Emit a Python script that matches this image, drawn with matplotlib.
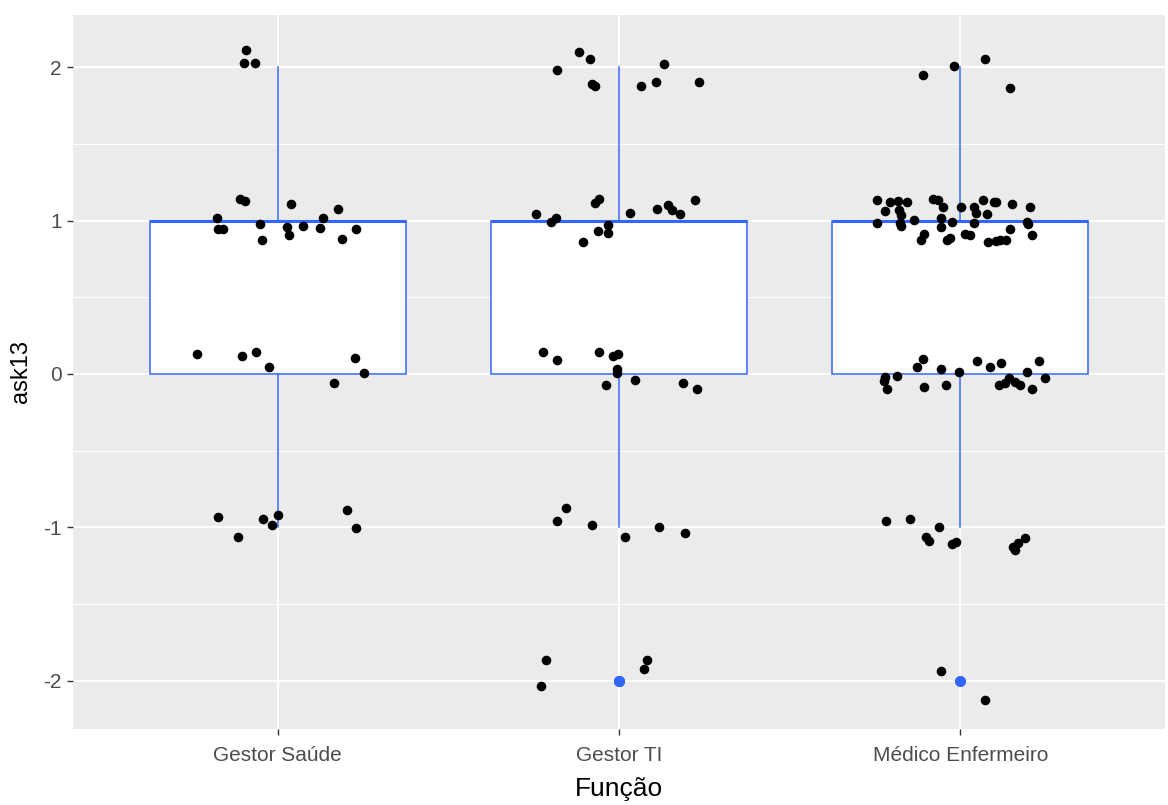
import numpy as np
import matplotlib
matplotlib.use("Agg")
import matplotlib.pyplot as plt

plt.rcParams['font.family'] = ['Liberation Sans', 'DejaVu Sans']

categories = ["Gestor Saúde", "Gestor TI", "Médico Enfermeiro"]

# jittered points per group: horizontal jitter (category units) and displayed value
saude_jitter = [-0.094, -0.099, -0.067,
                -0.111, -0.096, 0.039, 0.177, -0.179, 0.134,
                -0.174, -0.160, -0.052, -0.046, 0.028, 0.034, 0.075, 0.124, 0.187, 0.230,
                -0.237, -0.105, -0.063, -0.025, 0.225, 0.252, 0.166,
                -0.174, -0.042, -0.016, 0.001, -0.116, 0.203, 0.230]
saude_values = [2.11, 2.03, 2.03,
                1.14, 1.13, 1.11, 1.075, 1.018, 1.018,
                0.943, 0.943, 0.979, 0.871, 0.96, 0.908, 0.966, 0.953, 0.882, 0.943,
                0.13, 0.119, 0.141, 0.046, 0.106, 0.008, -0.061,
                -0.934, -0.945, -0.982, -0.921, -1.066, -0.886, -1.005]

ti_jitter = [-0.117, -0.085, -0.181, -0.080, -0.069, 0.063, 0.107, 0.133, 0.235,
             -0.069, -0.058, -0.244, -0.198, -0.186, 0.032, 0.112, 0.143, 0.154, 0.180, 0.224,
             -0.031, -0.063, -0.031, -0.106,
             -0.223, -0.181, -0.058, -0.017, -0.004, -0.005, -0.005, -0.038, 0.048, 0.186, 0.229,
             -0.155, -0.181, -0.080, 0.016, 0.117, 0.192,
             -0.213, -0.229, 0.081, 0.074]
ti_values = [2.10, 2.054, 1.98, 1.889, 1.874, 1.874, 1.90, 2.02, 1.90,
             1.112, 1.138, 1.04, 0.988, 1.018, 1.051, 1.075, 1.103, 1.066, 1.04, 1.136,
             0.971, 0.932, 0.918, 0.86,
             0.141, 0.093, 0.141, 0.119, 0.130, 0.033, 0.005, -0.072, -0.037, -0.061, -0.098,
             -0.873, -0.958, -0.982, -1.066, -0.995, -1.04,
             -1.865, -2.033, -1.863, -1.926]

medico_jitter = [-0.110, -0.019, 0.071, 0.145,
                 -0.243, -0.206, -0.184, -0.157, -0.079, -0.064, -0.052, 0.002, 0.039, 0.066,
                 0.098, 0.105, 0.152, 0.204,
                 -0.222, -0.179, -0.174, 0.045, 0.077,
                 -0.243, -0.177, -0.174, -0.136, -0.058, -0.058, -0.024, 0.039, 0.196, 0.198,
                 0.145, 0.210,
                 -0.106, -0.116, -0.038, -0.030, 0.014, 0.028, 0.082, 0.105, 0.116, 0.134,
                 -0.110, -0.126, -0.222, -0.224, -0.216, -0.185, -0.105, -0.056, -0.041, -0.003,
                 0.050, 0.087, 0.118, 0.231, 0.194, 0.247, 0.210, 0.113, 0.132, 0.142, 0.159, 0.176,
                 -0.217, -0.147, -0.061, -0.100, -0.093, -0.025, -0.014, 0.155, 0.168, 0.190, 0.160,
                 -0.056, 0.072]
medico_values = [1.948, 2.007, 2.054, 1.863,
                 1.136, 1.123, 1.127, 1.121, 1.138, 1.136, 1.086, 1.088, 1.09, 1.136,
                 1.123, 1.121, 1.11, 1.088,
                 1.062, 1.068, 1.036, 1.051, 1.04,
                 0.982, 0.986, 0.964, 1.001, 1.018, 0.956, 0.988, 0.984, 0.99, 0.977,
                 0.943, 0.908,
                 0.912, 0.873, 0.873, 0.884, 0.910, 0.908, 0.86, 0.864, 0.873, 0.873,
                 0.098, 0.048, -0.022, -0.045, -0.098, -0.013, -0.085, 0.035, -0.072, 0.011,
                 0.083, 0.048, 0.072, 0.083, 0.011, -0.024, -0.098, -0.072, -0.061, -0.028, -0.050, -0.074,
                 -0.958, -0.945, -0.995, -1.06, -1.088, -1.11, -1.099, -1.13, -1.105, -1.07, -1.145,
                 -1.937, -2.128]

groups = [(saude_jitter, saude_values),
          (ti_jitter, ti_values),
          (medico_jitter, medico_values)]

BLUE = "#3366FF"
PANEL = "#EBEBEB"
TEXT_GREY = "#4D4D4D"

fig = plt.figure(figsize=(11.68, 8.05), dpi=100)
ax = fig.add_axes([0.0625, 0.0944, 0.935, 0.887])
ax.set_facecolor(PANEL)

# grid: major and minor white lines
for yv in [-2, -1, 0, 1, 2]:
    ax.axhline(yv, color="white", lw=1.4, zorder=0)
for yv in [-1.5, -0.5, 0.5, 1.5]:
    ax.axhline(yv, color="white", lw=0.7, zorder=0)
for xv in [1, 2, 3]:
    ax.axvline(xv, color="white", lw=1.4, zorder=0)

# boxplots of the underlying integer responses
raw = [np.round(np.array(v)) for _, v in groups]
ax.boxplot(raw, positions=[1, 2, 3], widths=0.75, whis=1.5, patch_artist=True,
           showcaps=False, manage_ticks=False,
           boxprops=dict(facecolor="white", edgecolor=BLUE, linewidth=1.1),
           whiskerprops=dict(color=BLUE, linewidth=1.1),
           medianprops=dict(color=BLUE, linewidth=2.2),
           flierprops=dict(marker="o", markerfacecolor=BLUE, markeredgecolor=BLUE,
                           markersize=6.8, linestyle="none"),
           zorder=2)

# jittered raw points
for i, (jit, vals) in enumerate(groups):
    xs = (i + 1) + np.array(jit)
    ax.scatter(xs, vals, s=48, color="black", linewidths=0, zorder=3)

ax.set_xlim(0.4, 3.6)
ax.set_ylim(-2.315, 2.34)
ax.set_xticks([1, 2, 3])
ax.set_xticklabels(categories)
ax.set_yticks([-2, -1, 0, 1, 2])
ax.set_yticklabels(["-2", "-1", "0", "1", "2"])
ax.tick_params(axis="both", colors="#333333", labelcolor=TEXT_GREY, labelsize=15,
               length=4, width=1)
ax.tick_params(axis="x", pad=8)
ax.tick_params(axis="y", pad=4)
for sp in ax.spines.values():
    sp.set_visible(False)

ax.set_xlabel("Função", fontsize=19, color="black", labelpad=9)
ax.set_ylabel("ask13", fontsize=17, color="black", labelpad=8)

fig.savefig("out.png", dpi=100)
